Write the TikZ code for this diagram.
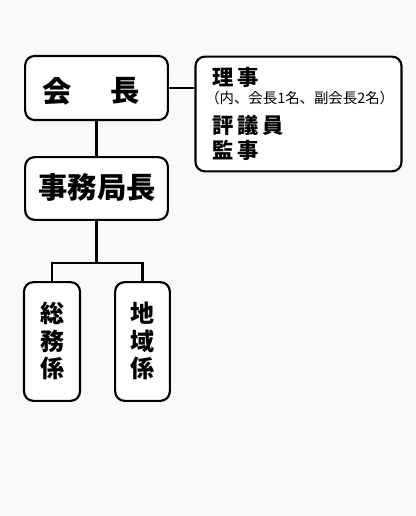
\documentclass[tikz,border=0pt]{standalone}
\usepackage{fontspec}
\newfontfamily\jp{Noto Sans CJK JP}
\definecolor{bg}{RGB}{249,249,249}
\newcommand{\gp}{\hspace{2.8pt}}
\begin{document}
\begin{tikzpicture}[x=0.75pt,y=-0.75pt,
  box/.style={draw=black,line width=1.6pt,rounded corners=7pt,fill=white,inner sep=0pt},
  conn/.style={draw=black,line width=1.6pt},
  big/.style={font=\jp\bfseries\fontsize{22}{24}\selectfont},
  mid/.style={font=\jp\bfseries\fontsize{16}{18}\selectfont,anchor=west,inner sep=0pt},
  small/.style={font=\jp\fontsize{10.8}{12}\selectfont,anchor=west,inner sep=0pt},
  vert/.style={font=\jp\bfseries\fontsize{18}{20.5}\selectfont,align=center,inner sep=0pt}]
\fill[bg] (0,0) rectangle (416,516);
\useasboundingbox (0,0) rectangle (416,516);
% boxes
\node[box,minimum width=107pt,minimum height=48pt] (kaicho) at (96.5,88) {};
\node[box,minimum width=154.5pt,minimum height=86pt] (yakuin) at (298.5,114) {};
\node[box,minimum width=107pt,minimum height=47pt] (jimu) at (96.5,188.5) {};
\node[box,minimum width=42pt,minimum height=89pt] (soumu) at (52,341.5) {};
\node[box,minimum width=41pt,minimum height=89pt] (chiiki) at (142.5,341.5) {};
% texts
\node[big] (t1) at (57,91) {会};
\node[big] (t2) at (125,91) {長};
\node[big] (t3) at (97,187) {事務局長};
\node[mid] (r1) at (212,77) {理\gp 事};
\node[small] (r2) at (205,98) {（内、会長1名、副会長2名）};
\node[mid] (r3) at (212,125) {評\gp 議\gp 員};
\node[mid] (r4) at (212,150.5) {監\gp 事};
\node[vert] (v1) at (52,341) {総\\務\\係};
\node[vert] (v2) at (142.5,341) {地\\域\\係};
% connectors
\coordinate (branch) at (96.5,263);
\draw[conn] (kaicho.east) -- (kaicho.east -| yakuin.west);
\draw[conn] (kaicho.south) -- (jimu.north);
\draw[conn] (jimu.south) -- (branch);
\draw[conn] (soumu.north) |- (branch) -| (chiiki.north);
\end{tikzpicture}
\end{document}
